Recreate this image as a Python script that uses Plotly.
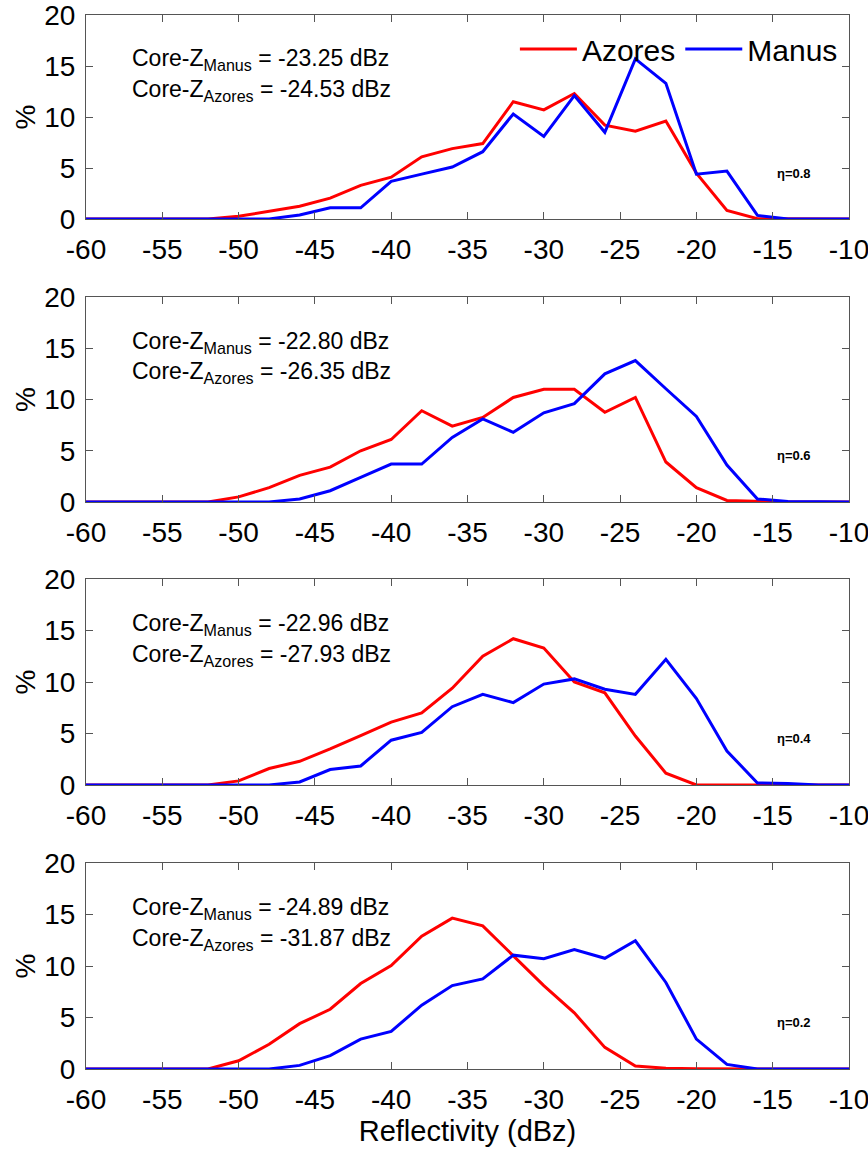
import plotly.graph_objects as go
from plotly.subplots import make_subplots

# Reflectivity bins (dBz), -60 to -10 every 2 dBz
refl = list(range(-60, -9, 2))

# Frequency (%) per bin for each eta threshold
azores_08 = [0, 0, 0, 0, 0,
             0.26, 0.75, 1.25, 2.05, 3.3, 4.1, 6.1, 6.9, 7.4, 11.5, 10.7, 12.3, 9.2, 8.6, 9.6, 4.5, 0.85, 0.03,
             0, 0, 0]
manus_08 = [0, 0, 0, 0, 0, 0, 0,
            0.4, 1.1, 1.1, 3.7, 4.4, 5.1, 6.6, 10.3, 8.1, 12.1, 8.5, 15.7, 13.3, 4.4, 4.7, 0.35,
            0, 0, 0]

azores_06 = [0, 0, 0, 0, 0,
             0.5, 1.4, 2.6, 3.4, 5.0, 6.1, 8.9, 7.4, 8.25, 10.2, 11.0, 11.0, 8.75, 10.2, 3.9, 1.4, 0.15, 0.05,
             0, 0, 0]
manus_06 = [0, 0, 0, 0, 0, 0, 0,
            0.3, 1.1, 2.4, 3.7, 3.7, 6.3, 8.1, 6.8, 8.7, 9.6, 12.5, 13.8, 11.05, 8.35, 3.6, 0.3, 0.05,
            0, 0]

azores_04 = [0, 0, 0, 0, 0,
             0.4, 1.6, 2.3, 3.5, 4.8, 6.1, 7.0, 9.4, 12.5, 14.2, 13.3, 10.0, 8.95, 4.75, 1.15,
             0, 0, 0, 0, 0, 0]
manus_04 = [0, 0, 0, 0, 0, 0, 0,
            0.3, 1.5, 1.85, 4.35, 5.1, 7.6, 8.8, 8.0, 9.8, 10.3, 9.3, 8.8, 12.2, 8.4, 3.3, 0.2, 0.15,
            0, 0]

azores_02 = [0, 0, 0, 0, 0,
             0.8, 2.4, 4.4, 5.8, 8.3, 10.05, 12.9, 14.65, 13.9, 11.0, 8.1, 5.45, 2.1, 0.3, 0.07, 0.03,
             0, 0, 0, 0, 0]
manus_02 = [0, 0, 0, 0, 0, 0, 0,
            0.35, 1.3, 2.9, 3.65, 6.2, 8.1, 8.75, 11.05, 10.7, 11.6, 10.75, 12.45, 8.4, 2.9, 0.45,
            0, 0, 0, 0]

eta_labels = ["η=0.8", "η=0.6", "η=0.4", "η=0.2"]
core_manus = ["-23.25", "-22.80", "-22.96", "-24.89"]
core_azores = ["-24.53", "-26.35", "-27.93", "-31.87"]

x_ticks = list(range(-60, -9, 5))
x_ticktext = [str(v) for v in x_ticks]
y_ticks = [0, 5, 10, 15, 20]

azores_all = [azores_08, azores_06, azores_04, azores_02]
manus_all = [manus_08, manus_06, manus_04, manus_02]

FONT = "Liberation Sans, Arial, Helvetica, sans-serif"
RED = "#ff0000"
BLUE = "#0000ff"

fig = make_subplots(rows=4, cols=1)

for i in range(4):
    row = i + 1
    fig.add_trace(go.Scatter(x=refl, y=azores_all[i], mode="lines", name="Azores",
                             line=dict(color=RED, width=3), showlegend=(i == 0)),
                  row=row, col=1)
    fig.add_trace(go.Scatter(x=refl, y=manus_all[i], mode="lines", name="Manus",
                             line=dict(color=BLUE, width=3), showlegend=(i == 0)),
                  row=row, col=1)

# Panel extents in pixels (top, bottom) turned into paper domains
M_TOP, M_BOT = 15, 80
FIG_H = 1149
H_PLOT = FIG_H - M_TOP - M_BOT
panels_px = [(15, 219), (297, 502), (579, 785), (863, 1069)]
for i, (top, bot) in enumerate(panels_px):
    d0 = (FIG_H - M_BOT - bot) / H_PLOT
    d1 = (FIG_H - M_BOT - top) / H_PLOT
    ax = "" if i == 0 else str(i + 1)
    fig.layout["yaxis" + ax].domain = [max(d0, 0), min(d1, 1)]

axis_common = dict(
    showline=True, linecolor="#555555", linewidth=1, mirror="ticks",
    ticks="inside", ticklen=7, tickcolor="#555555", showgrid=False, zeroline=False,
    tickfont=dict(family=FONT, size=28, color="black"),
    ticklabeloverflow="allow", automargin=False,
)

for i in range(4):
    row = i + 1
    fig.update_xaxes(range=[-60, -10], tickvals=x_ticks, ticktext=x_ticktext,
                     ticklabelstandoff=5, **axis_common, row=row, col=1)
    fig.update_yaxes(range=[0, 20], tickvals=y_ticks, ticklabelstandoff=4,
                     title=dict(text="%", font=dict(family=FONT, size=28, color="black"),
                                standoff=0),
                     **axis_common, row=row, col=1)

fig.update_xaxes(title=dict(text="Reflectivity (dBz)",
                            font=dict(family=FONT, size=29, color="black"), standoff=4),
                 row=4, col=1)

for i in range(4):
    xr = "x" if i == 0 else "x" + str(i + 1)
    yr = "y" if i == 0 else "y" + str(i + 1)
    fig.add_annotation(x=-57.1, y=15.6, xref=xr, yref=yr, xanchor="left", yanchor="middle",
                       text="Core-Z<sub>Manus</sub> = " + core_manus[i] + " dBz",
                       showarrow=False, font=dict(family=FONT, size=23, color="black"))
    fig.add_annotation(x=-57.1, y=12.6, xref=xr, yref=yr, xanchor="left", yanchor="middle",
                       text="Core-Z<sub>Azores</sub> = " + core_azores[i] + " dBz",
                       showarrow=False, font=dict(family=FONT, size=23, color="black"))
    fig.add_annotation(x=-13.6, y=4.5, xref=xr, yref=yr, xanchor="center", yanchor="middle",
                       text="<b>" + eta_labels[i] + "</b>", showarrow=False,
                       font=dict(family=FONT, size=13, color="black"))

fig.update_layout(
    width=868, height=FIG_H,
    margin=dict(l=86, r=19, t=M_TOP, b=M_BOT, autoexpand=False),
    plot_bgcolor="white", paper_bgcolor="white",
    font=dict(family=FONT, color="black"),
    legend=dict(orientation="h", x=0.992, xanchor="right", y=0.9925, yanchor="top",
                font=dict(family=FONT, size=30, color="black"),
                itemwidth=57, bgcolor="rgba(0,0,0,0)", tracegroupgap=0),
)

fig.write_html("out.html")
